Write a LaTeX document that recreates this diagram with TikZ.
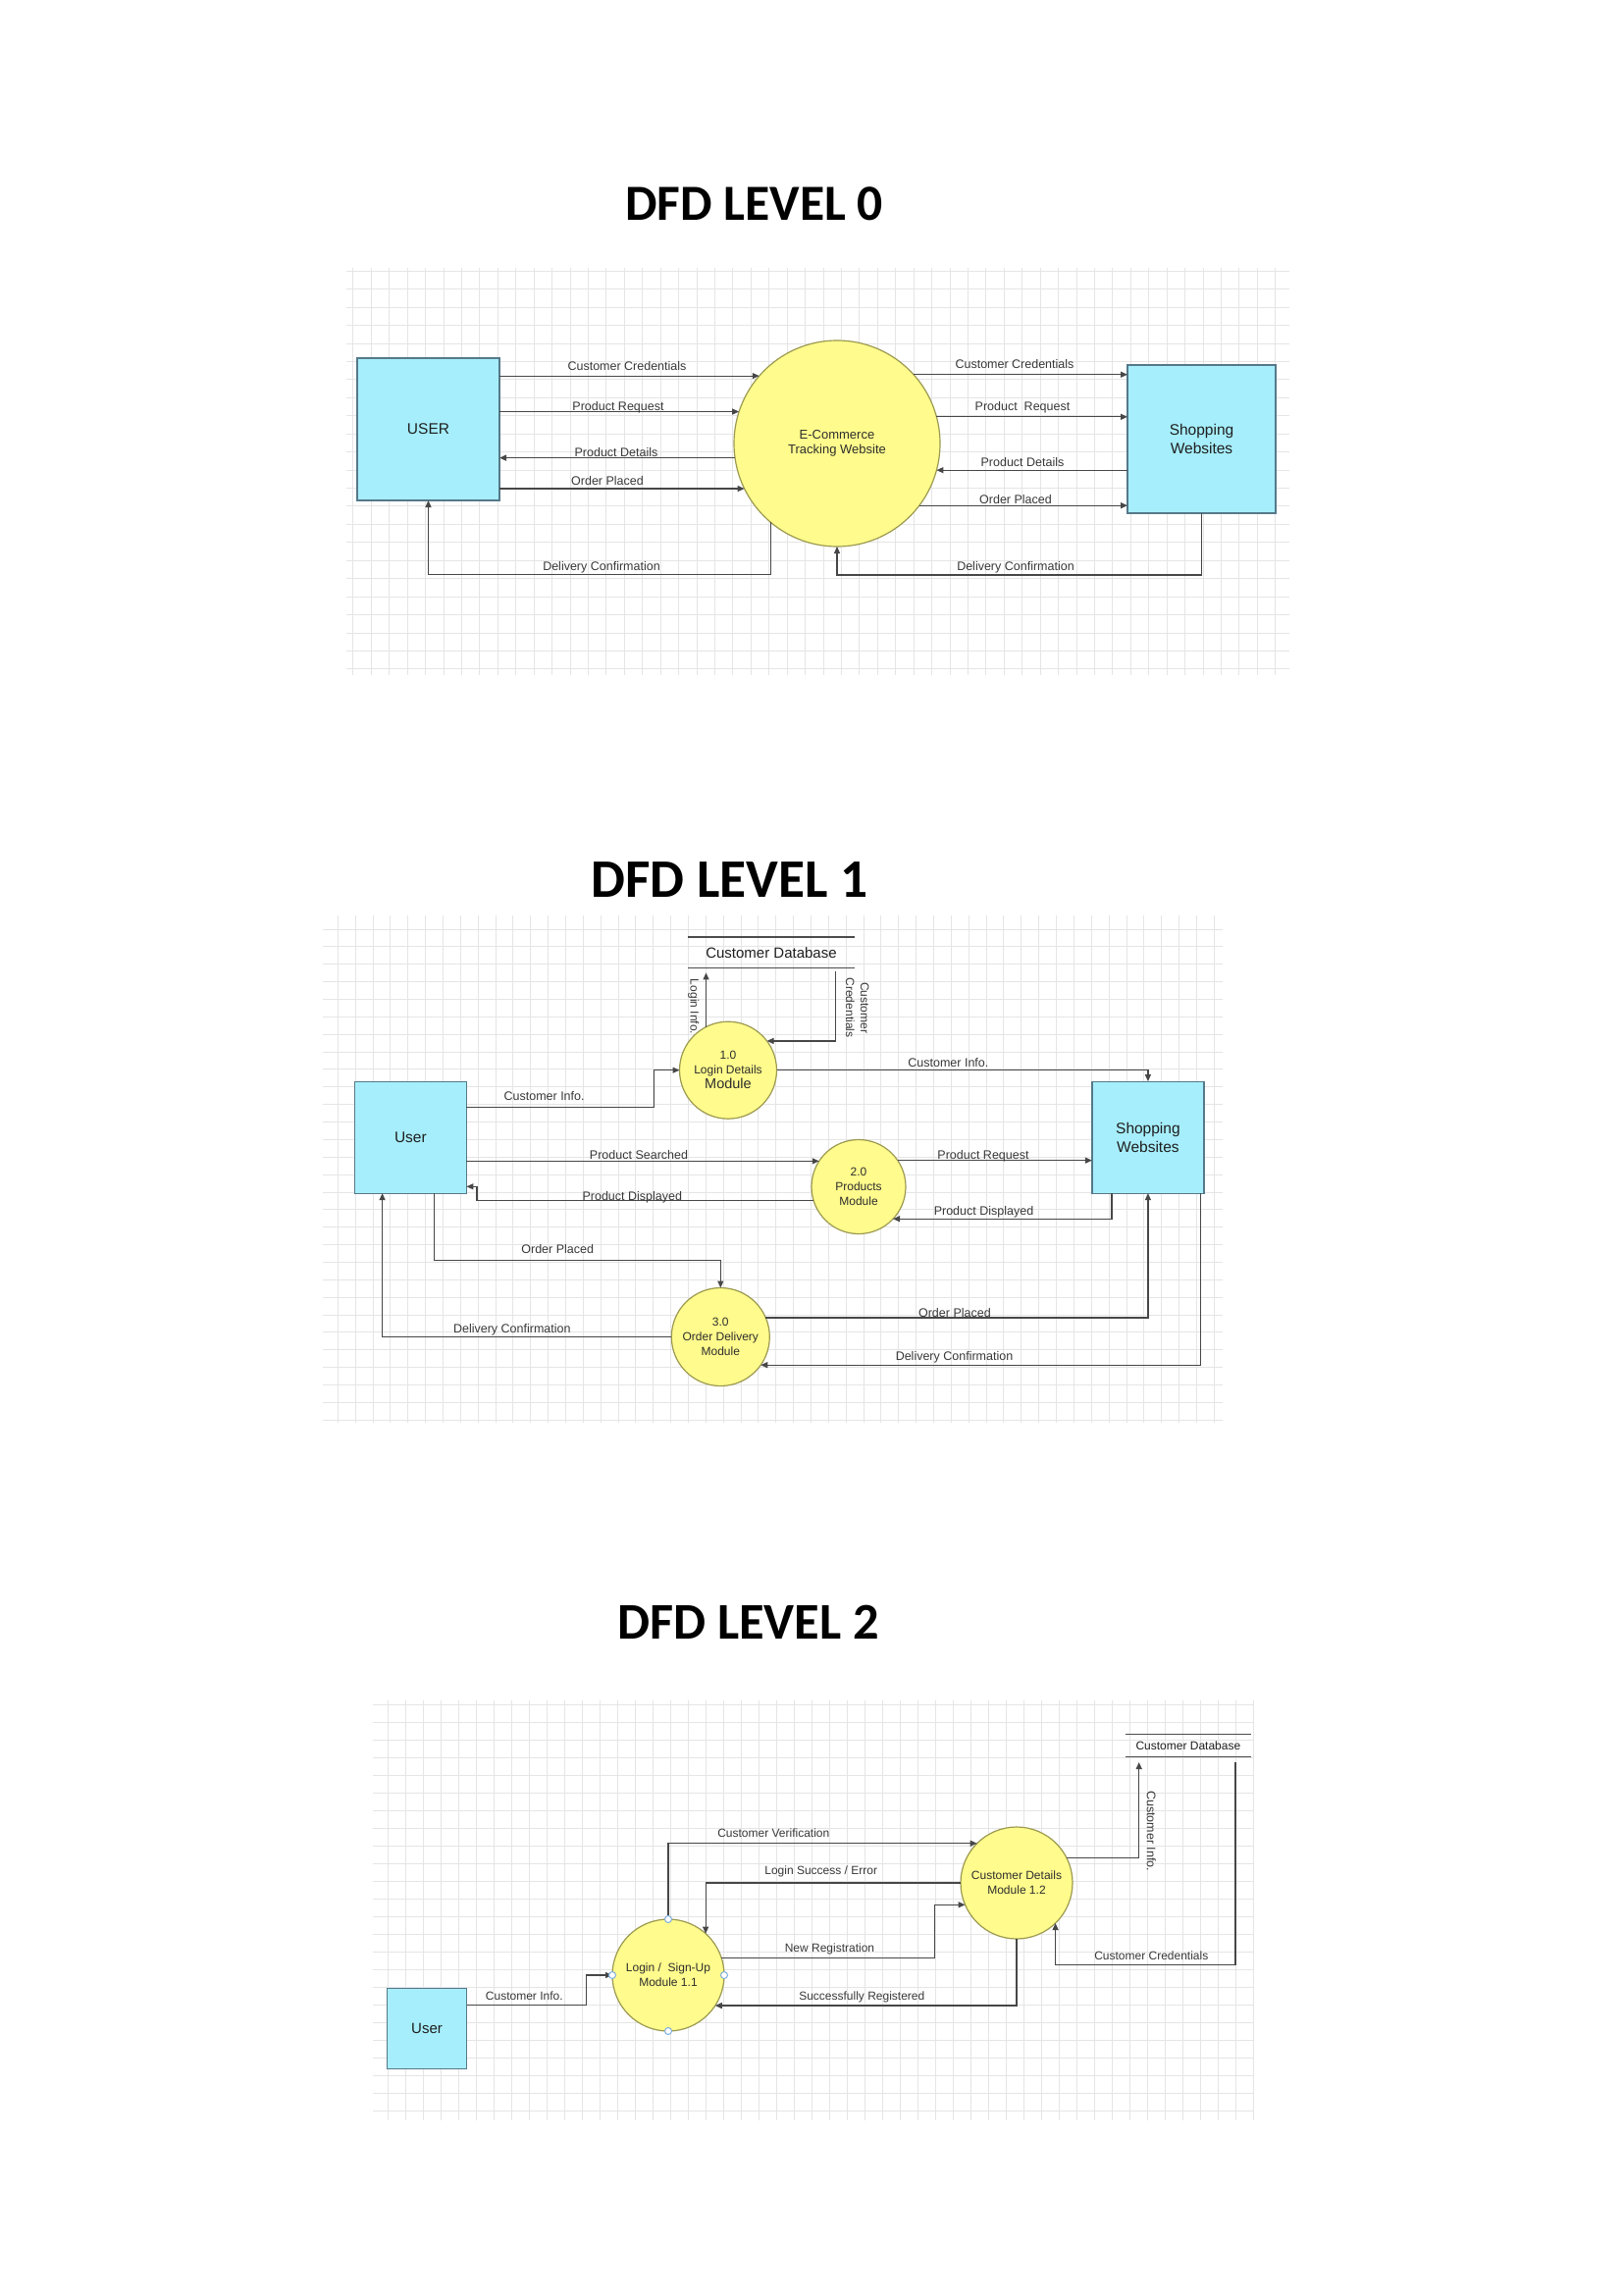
\documentclass[tikz,border=0pt]{standalone}
\usepackage{fontspec}
\setmainfont{Liberation Sans}
\newfontfamily\titlefont{Carlito}
\usepackage{tikz}
\usetikzlibrary{positioning,arrows.meta}
\definecolor{entityfill}{HTML}{A6EEFB}
\definecolor{entityline}{HTML}{55798A}
\definecolor{procfill}{HTML}{FFFB8C}
\definecolor{procline}{HTML}{9C9A50}
\definecolor{handleline}{HTML}{7FAEDC}
\tikzset{entity/.style = {rectangle,draw=entityline,fill=entityfill,line width=1.2pt,inner sep=0,outer sep=0,align=center,text=black!88,font=\fontsize{15.5}{19}\selectfont}}
\tikzset{process/.style = {circle,draw=procline,fill=procfill,line width=1.2pt,inner sep=0,outer sep=0,align=center,text=black!82,font=\fontsize{12}{15}\selectfont}}
\tikzset{store/.style = {inner sep=0,outer sep=0,text=black!88}}
\tikzset{storeline/.style = {draw=black!70,line width=1.1pt}}
\tikzset{flow/.style = {draw=black!72,line width=1.2pt,-{Triangle[length=7pt,width=6pt]}}}
\tikzset{lbl/.style = {inner sep=0,text=black!78,text height=9pt,text depth=0pt,font=\fontsize{12.5}{15}\selectfont}}
\tikzset{vlbl/.style = {inner sep=0,text=black!78,align=center,rotate=-90,font=\fontsize{12}{15}\selectfont}}
\tikzset{gridline/.style = {draw=black!10,line width=1pt}}
\tikzset{handle/.style = {circle,draw=handleline,fill=white,line width=1pt,minimum size=7pt,inner sep=0}}
\tikzset{title/.style = {inner sep=0}}
\newcommand{\titlesize}[1]{\titlefont\bfseries\fontsize{#1}{#1}\selectfont}

\begin{document}
\begin{tikzpicture}[x=1pt,y=-1pt]
    \fill[white] (0,0) rectangle (1654,2339);
    \useasboundingbox (0,0) rectangle (1654,2339);

    % grids
    \foreach \i in {0,...,51} \draw[gridline] ({359.9+18.43*\i},273) -- ({359.9+18.43*\i},688);
    \foreach \j in {0,...,22} \draw[gridline] (353,{276.4+18.43*\j}) -- (1314,{276.4+18.43*\j});
    \foreach \i in {0,...,50} \draw[gridline] ({344.3+17.86*\i},933) -- ({344.3+17.86*\i},1450);
    \foreach \j in {0,...,28} \draw[gridline] (329,{947.1+17.86*\j}) -- (1246,{947.1+17.86*\j});
    \foreach \i in {0,...,49} \draw[gridline] ({395+18*\i},1733) -- ({395+18*\i},2161);
    \foreach \j in {0,...,23} \draw[gridline] (380,{1737+18*\j}) -- (1277,{1737+18*\j});

    \node[title, font=\titlesize{51.6}] (head0) at (768.7,208) {DFD LEVEL 0};
    \node[title, font=\titlesize{55.3}] (head1) at (743.3,896.7) {DFD LEVEL 1};
    \node[title, font=\titlesize{52.4}] (head2) at (762.5,1653.3) {DFD LEVEL 2};

    % level 0
    \begin{scope}
        \node[entity, minimum size=145pt] (user0) at (436.5,437.5) {USER};
        \node[process, minimum size=210pt, font=\fontsize{13}{15}\selectfont] (ecom) at (853,452) {E-Commerce\\Tracking Website};
        \node[entity, minimum size=151pt] (shop0) at (1224.5,447.5) {Shopping\\Websites};

        \draw[flow] (user0.east |- ecom.139.4) -- (ecom.139.4);
        \draw[flow] (user0.east |- ecom.162.7) -- (ecom.162.7);
        \draw[flow] (ecom.188.8) -- (user0.east |- ecom.188.8);
        \draw[flow] (user0.east |- ecom.206.6) -- (ecom.206.6);
        \draw[flow] (ecom.230.4) -- ++(0,53) -| (user0.south);
        \draw[flow] (ecom.42.8) -- (shop0.west |- ecom.42.8);
        \draw[flow] (ecom.15.1) -- (shop0.west |- ecom.15.1);
        \draw[flow] (shop0.west |- ecom.345.3) -- (ecom.345.3);
        \draw[flow] (ecom.323.8) -- (shop0.west |- ecom.323.8);
        \draw[flow] (shop0.south) -- ++(0,63) -| (ecom.south);

        \node[lbl] (l0cc) at (639,373) {Customer Credentials};
        \node[lbl] (l0pr) at (630,414) {Product Request};
        \node[lbl] (l0pd) at (628,461) {Product Details};
        \node[lbl] (l0op) at (619,490) {Order Placed};
        \node[lbl] (l0dc) at (613,577) {Delivery Confirmation};
        \node[lbl] (r0cc) at (1034,371) {Customer Credentials};
        \node[lbl] (r0pr) at (1042,414) {Product~~Request};
        \node[lbl] (r0pd) at (1042,471) {Product Details};
        \node[lbl] (r0op) at (1035,509) {Order Placed};
        \node[lbl] (r0dc) at (1035,577) {Delivery Confirmation};
    \end{scope}

    % level 1
    \begin{scope}
        \node[entity, minimum size=114pt] (user1) at (418.4,1159.1) {User};
        \node[entity, minimum size=114pt] (shop1) at (1169.9,1159.1) {Shopping\\Websites};
        \node[store, minimum width=169.3pt, minimum height=31.4pt, font=\fontsize{15}{18}\selectfont] (db1) at (786,970.7) {Customer Database};
        \draw[storeline] (db1.north west) -- (db1.north east) (db1.south west) -- (db1.south east);
        \node[process, minimum size=99pt] (p1) at (742,1090.7) {1.0\\Login Details\\{\fontsize{14.5}{16}\selectfont Module}};
        \node[process, minimum size=96pt] (p2) at (875,1209.5) {2.0\\Products\\Module};
        \node[process, minimum size=100pt] (p3) at (734.3,1362.5) {3.0\\Order Delivery\\Module};

        \draw[flow, shorten >=5pt] (p1.117.7) -- (p1.117.7 |- db1.south);
        \draw[flow] ([xshift=-18.9pt,yshift=-4pt]db1.south east) |- (p1.37.7);
        \draw[flow] ([yshift=30.5pt]user1.east) -- ++(191,0) |- (p1.west);
        \draw[flow] (p1.east) -| (shop1.north);
        \draw[flow] (user1.east |- p2.147.9) -- (p2.147.9);
        \draw[flow] (p2.197.6) -| ([xshift=10.6pt,yshift=-50.2pt]user1.east) -- ([yshift=-50.2pt]user1.east);
        \draw[flow] (p2.34.2) -- (shop1.west |- p2.34.2);
        \draw[flow] ([xshift=-37pt]shop1.south) |- (p2.317.4);
        \draw[flow] ([xshift=24.1pt]user1.south) -- ++(0,68.6) -| (p3.north);
        \draw[flow] (p3.west) -| ([xshift=-28.8pt]user1.south);
        \draw[flow] (p3.23.6) -| (shop1.south);
        \draw[flow] ([xshift=53.7pt]shop1.south) |- (p3.325.7);

        \node[vlbl] (l1li) at (706.8,1026) {Login Info.};
        \node[vlbl] (l1cc) at (873.7,1027) {Customer\\Credentials};
        \node[lbl] (l1ci) at (554.6,1116.8) {Customer Info.};
        \node[lbl] (r1ci) at (966.4,1082.9) {Customer Info.};
        \node[lbl] (l1ps) at (651,1176.8) {Product Searched};
        \node[lbl] (l1pd) at (644.3,1219.3) {Product Displayed};
        \node[lbl] (r1pr) at (1002,1176.8) {Product Request};
        \node[lbl] (r1pd) at (1002.5,1234) {Product Displayed};
        \node[lbl] (l1op) at (568.2,1273.2) {Order Placed};
        \node[lbl] (l1dc) at (521.8,1354.3) {Delivery Confirmation};
        \node[lbl] (r1op) at (972.9,1337.5) {Order Placed};
        \node[lbl] (r1dc) at (972.5,1381.8) {Delivery Confirmation};
    \end{scope}

    % level 2
    \begin{scope}
        \node[entity, minimum size=81.4pt, font=\fontsize{15}{18}\selectfont] (user2) at (435,2067.4) {User};
        \node[process, minimum size=114pt] (p11) at (681,2013) {Login /~ Sign-Up\\Module 1.1};
        \node[process, minimum size=114pt] (p12) at (1036,1919) {Customer Details\\Module 1.2};
        \node[store, minimum width=128.3pt, minimum height=23pt, font=\fontsize{12}{15}\selectfont] (db2) at (1210.9,1778.8) {Customer Database};
        \draw[storeline] (db2.north west) -- (db2.north east) (db2.south west) -- (db2.south east);

        \draw[flow] ([yshift=24.1pt]user2.east) -- ++(121.6,0) |- (p11.west);
        \draw[flow] (p11.north) |- (p12.135.9);
        \draw[flow] (p12.west) -| (p11.48.2);
        \draw[flow] (p11.18.1) -- ++(217.1,0) |- (p12.203.5);
        \draw[flow] (p12.south) |- (p11.327.1);
        \draw[flow, shorten >=5.7pt] (p12.27.5) -| ([xshift=-50.2pt]db2.south);
        \draw[flow] ([xshift=48.1pt,yshift=-5.7pt]db2.south) -- ++(0,206.3) -| (p12.314.1);

        \foreach \a in {north,south,east,west} \node[handle] (hd-\a) at (p11.\a) {};

        \node[lbl, font=\fontsize{12}{15}\selectfont] (l2ci) at (534.3,2034.3) {Customer Info.};
        \node[lbl, font=\fontsize{12}{15}\selectfont] (l2cv) at (788.3,1867.7) {Customer Verification};
        \node[lbl, font=\fontsize{12}{15}\selectfont] (l2ls) at (836.7,1906) {Login Success / Error};
        \node[lbl, font=\fontsize{12}{15}\selectfont] (l2nr) at (845.5,1985) {New Registration};
        \node[lbl, font=\fontsize{12}{15}\selectfont] (l2sr) at (878.3,2034.3) {Successfully Registered};
        \node[vlbl, font=\fontsize{12.5}{15}\selectfont] (r2ci) at (1173.3,1866) {Customer Info.};
        \node[lbl, font=\fontsize{12}{15}\selectfont] (r2cc) at (1173.3,1993.3) {Customer Credentials};
    \end{scope}
\end{tikzpicture}
\end{document}
